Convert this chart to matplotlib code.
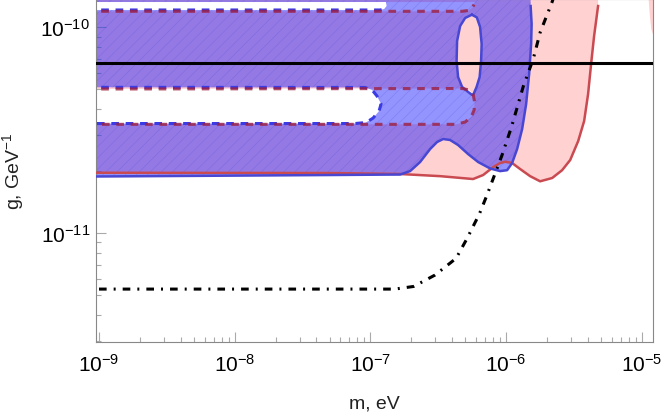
import matplotlib
matplotlib.use("Agg")
import matplotlib.pyplot as plt
import numpy as np
from matplotlib.path import Path
from matplotlib.patches import PathPatch
from matplotlib.ticker import NullFormatter, LogLocator

plt.rcParams['font.family'] = ['Liberation Sans', 'DejaVu Sans']
plt.rcParams['mathtext.fontset'] = 'custom'
plt.rcParams['mathtext.rm'] = 'Liberation Sans'
plt.rcParams['mathtext.it'] = 'Liberation Sans:italic'
plt.rcParams['hatch.linewidth'] = 0.5

# plot range
x_range = (9.55e-10, 1.2e-5)
y_range = (2.97e-12, 1.365e-10)
X_OUT, Y_OUT = 5e-10, 2e-10   # points beyond the frame, used to close regions

x_major = [1e-9, 1e-8, 1e-7, 1e-6, 1e-5]
y_major = [1e-11, 1e-10]

# horizontal bound on g
g_line = 6.7e-11

# dash-dot sensitivity curve (m, g)
proj_m = [1e-9, 1.51e-7, 2.08e-7, 2.99e-7, 4.27e-7, 5.12e-7, 6.35e-7, 7.19e-7,
          9.29e-7, 1.10e-6, 1.34e-6, 1.58e-6, 1.78e-6, 2.17e-6, 2.4e-6]
proj_g = [5.34e-12, 5.34e-12, 5.5e-12, 6.25e-12, 7.53e-12, 9.35e-12, 1.24e-11, 1.52e-11,
          2.38e-11, 3.32e-11, 5.2e-11, 7.0e-11, 9.46e-11, 1.32e-10, 1.6e-10]

# blue region: lower / right boundary
blue_m = [X_OUT, 5.04e-8, 1.652e-7, 1.958e-7, 2.32e-7, 2.75e-7, 3.096e-7, 3.43e-7, 3.86e-7,
          4.42e-7, 5.24e-7, 6.21e-7, 7.61e-7, 9.02e-7, 1.015e-6, 1.105e-6, 1.203e-6,
          1.31e-6, 1.402e-6, 1.475e-6, 1.526e-6, 1.539e-6, 1.513e-6]
blue_g = [1.878e-11, 1.914e-11, 1.925e-11, 2.0e-11, 2.214e-11, 2.56e-11, 2.77e-11, 2.864e-11,
          2.833e-11, 2.678e-11, 2.42e-11, 2.214e-11, 2.06e-11, 2.0e-11, 2.02e-11, 2.189e-11,
          2.56e-11, 3.203e-11, 4.24e-11, 5.93e-11, 8.295e-11, 1.038e-10, 1.269e-10]

# blue region holes
blue_hole_top_m = [X_OUT, 1.177e-7, 1.26e-7, 1.314e-7, 1.3e-7, X_OUT]
blue_hole_top_g = [1.214e-10, 1.214e-10, 1.227e-10, 1.269e-10, 1.327e-10, 1.327e-10]
blue_hole_mid_m = [X_OUT, 9.12e-8, 1.028e-7, 1.118e-7, 1.197e-7, 1.157e-7, 1.045e-7,
                   9.28e-8, 7.7e-8, X_OUT]
blue_hole_mid_g = [5.11e-11, 5.10e-11, 4.96e-11, 4.63e-11, 4.24e-11, 3.92e-11, 3.62e-11,
                   3.445e-11, 3.406e-11, 3.406e-11]
island_m = [5.58e-7, 6.07e-7, 6.42e-7, 6.59e-7, 6.53e-7, 6.37e-7, 6.05e-7, 5.75e-7, 5.58e-7,
            5.24e-7, 4.73e-7, 4.42e-7, 4.31e-7, 4.346e-7, 4.575e-7, 4.98e-7]
island_g = [1.151e-10, 1.118e-10, 1.0035e-10, 8.295e-11, 6.86e-11, 5.73e-11, 5.13e-11,
            4.74e-11, 4.7e-11, 4.85e-11, 5.13e-11, 5.73e-11, 6.86e-11, 8.58e-11,
            1.0146e-10, 1.11e-10]

# red region: lower / right boundary
red_m = [X_OUT, 5.04e-8, 1.652e-7, 3.26e-7, 5.70e-7, 6.76e-7, 8.01e-7, 9.02e-7, 9.82e-7,
         1.105e-6, 1.266e-6, 1.50e-6, 1.778e-6, 2.18e-6, 2.58e-6, 2.96e-6, 3.39e-6,
         3.75e-6, 4.01e-6, 4.22e-6, 4.44e-6, 4.75e-6]
red_g = [1.964e-11, 1.957e-11, 1.936e-11, 1.89e-11, 1.83e-11, 1.914e-11, 2.09e-11, 2.189e-11,
         2.22e-11, 2.189e-11, 2.047e-11, 1.89e-11, 1.784e-11, 1.851e-11, 2.02e-11, 2.264e-11,
         2.80e-11, 3.503e-11, 4.74e-11, 6.63e-11, 9.07e-11, 1.269e-10]

# red region holes
red_hole_top_m = [X_OUT, 4.73e-7, 5.24e-7, 5.61e-7, 5.80e-7, 5.90e-7, X_OUT]
red_hole_top_g = [1.196e-10, 1.196e-10, 1.207e-10, 1.241e-10, 1.29e-10, 1.327e-10, 1.327e-10]
red_hole_mid_m = [X_OUT, 4.73e-7, 5.33e-7, 5.70e-7, 5.85e-7, 5.80e-7, 5.51e-7, 4.98e-7,
                  4.27e-7, X_OUT]
red_hole_mid_g = [5.01e-11, 5.04e-11, 4.96e-11, 4.74e-11, 4.335e-11, 3.96e-11, 3.66e-11,
                  3.465e-11, 3.376e-11, 3.376e-11]

# thin red sliver at the right edge
sliver_m = [1.12e-5, 1.12e-5, 1.14e-5, 1.17e-5, 1.25e-5, 1.25e-5]
sliver_g = [Y_OUT, 1.365e-10, 1.161e-10, 9.81e-11, 8.58e-11, Y_OUT]

PINK = (1.0, 0.0, 0.0, 0.18)
BLUE = (0.0, 0.0, 1.0, 0.42)
BLUE_LINE = '#4747d4'
RED_LINE = '#c94a50'


def area(ring):
    r = np.log10(np.asarray(ring))
    x, y = r[:, 0], r[:, 1]
    return 0.5 * np.sum(x * np.roll(y, -1) - np.roll(x, -1) * y)


def region(outer, holes):
    verts, codes = [], []
    sign = np.sign(area(outer))
    for i, ring in enumerate([outer] + holes):
        ring = list(ring)
        if i > 0 and np.sign(area(ring)) == sign:
            ring = ring[::-1]
        verts += ring + [ring[0]]
        codes += [Path.MOVETO] + [Path.LINETO] * (len(ring) - 1) + [Path.CLOSEPOLY]
    return Path(verts, codes)


fig = plt.figure(figsize=(6.64, 4.14), dpi=100)
ax = fig.add_axes([0.145, 0.1727, 0.838, 0.8261])
ax.set_xscale('log')
ax.set_yscale('log')
ax.set_xlim(*x_range)
ax.set_ylim(*y_range)

red_outer = [(X_OUT, Y_OUT)] + list(zip(red_m, red_g)) + [(red_m[-1], Y_OUT)]
red_holes = [list(zip(red_hole_top_m, red_hole_top_g)), list(zip(red_hole_mid_m, red_hole_mid_g))]
ax.add_patch(PathPatch(region(red_outer, red_holes), facecolor=PINK, lw=0, zorder=1))
ax.fill(sliver_m, sliver_g, color=PINK, lw=0, zorder=1)

blue_outer = [(X_OUT, Y_OUT)] + list(zip(blue_m, blue_g)) + [(blue_m[-1], Y_OUT)]
blue_holes = [list(zip(blue_hole_top_m, blue_hole_top_g)),
              list(zip(blue_hole_mid_m, blue_hole_mid_g)),
              list(zip(island_m, island_g))]
blue_path = region(blue_outer, blue_holes)
ax.add_patch(PathPatch(blue_path, facecolor=BLUE, lw=0, zorder=2))
ax.add_patch(PathPatch(blue_path, facecolor='none', edgecolor=(0.3, 0.3, 0.85, 0.25),
                       hatch='///', lw=0, zorder=2))

# boundaries
ax.plot(red_m, red_g, color=RED_LINE, lw=1.8, zorder=3)
ax.plot(blue_m, blue_g, color=BLUE_LINE, lw=1.8, zorder=3)
ax.plot(island_m + island_m[:1], island_g + island_g[:1], color=BLUE_LINE, lw=1.8, zorder=3)

dash = dict(lw=2.2, dashes=(2.5, 2.2), zorder=4)
ax.plot(blue_hole_top_m[:-2], blue_hole_top_g[:-2], color='#3b3be6', **dash)
ax.plot(blue_hole_mid_m, blue_hole_mid_g, color='#3b3be6', **dash)
ax.plot(red_hole_top_m[:-2], red_hole_top_g[:-2], color=(0.62, 0.12, 0.25, 0.8), **dash)
ax.plot(red_hole_mid_m, red_hole_mid_g, color=(0.62, 0.12, 0.25, 0.8), **dash)

ax.axhline(g_line, color='black', lw=2.2, zorder=5)
ax.plot(proj_m, proj_g, color='black', lw=2.2, dashes=(2.5, 2.3, 0.65, 2.3), zorder=6)

for s in ax.spines.values():
    s.set_color('#888888')
    s.set_linewidth(0.8)
ax.set_xticks(x_major)
ax.set_yticks(y_major)
ax.xaxis.set_minor_locator(LogLocator(base=10, subs=np.arange(2, 10)))
ax.yaxis.set_minor_locator(LogLocator(base=10, subs=np.arange(2, 10)))
ax.set_xlim(*x_range)
ax.set_ylim(*y_range)
ax.tick_params(which='both', direction='in', color='#aaaaaa', width=0.8,
               top=False, right=False, labelsize=15, labelcolor='black')
ax.tick_params(which='major', length=7.2)
ax.tick_params(which='minor', length=3.8)
ax.tick_params(axis='x', pad=8)
ax.tick_params(axis='y', pad=4.5)
ax.xaxis.set_minor_formatter(NullFormatter())
ax.yaxis.set_minor_formatter(NullFormatter())

ax.set_xlabel('m, eV', fontsize=14, color='#222222', labelpad=14.5)
ax.set_ylabel('g, GeV$^{-1}$', fontsize=14, color='#222222', labelpad=10)

plt.savefig('out.png', dpi=100)
plt.close()
